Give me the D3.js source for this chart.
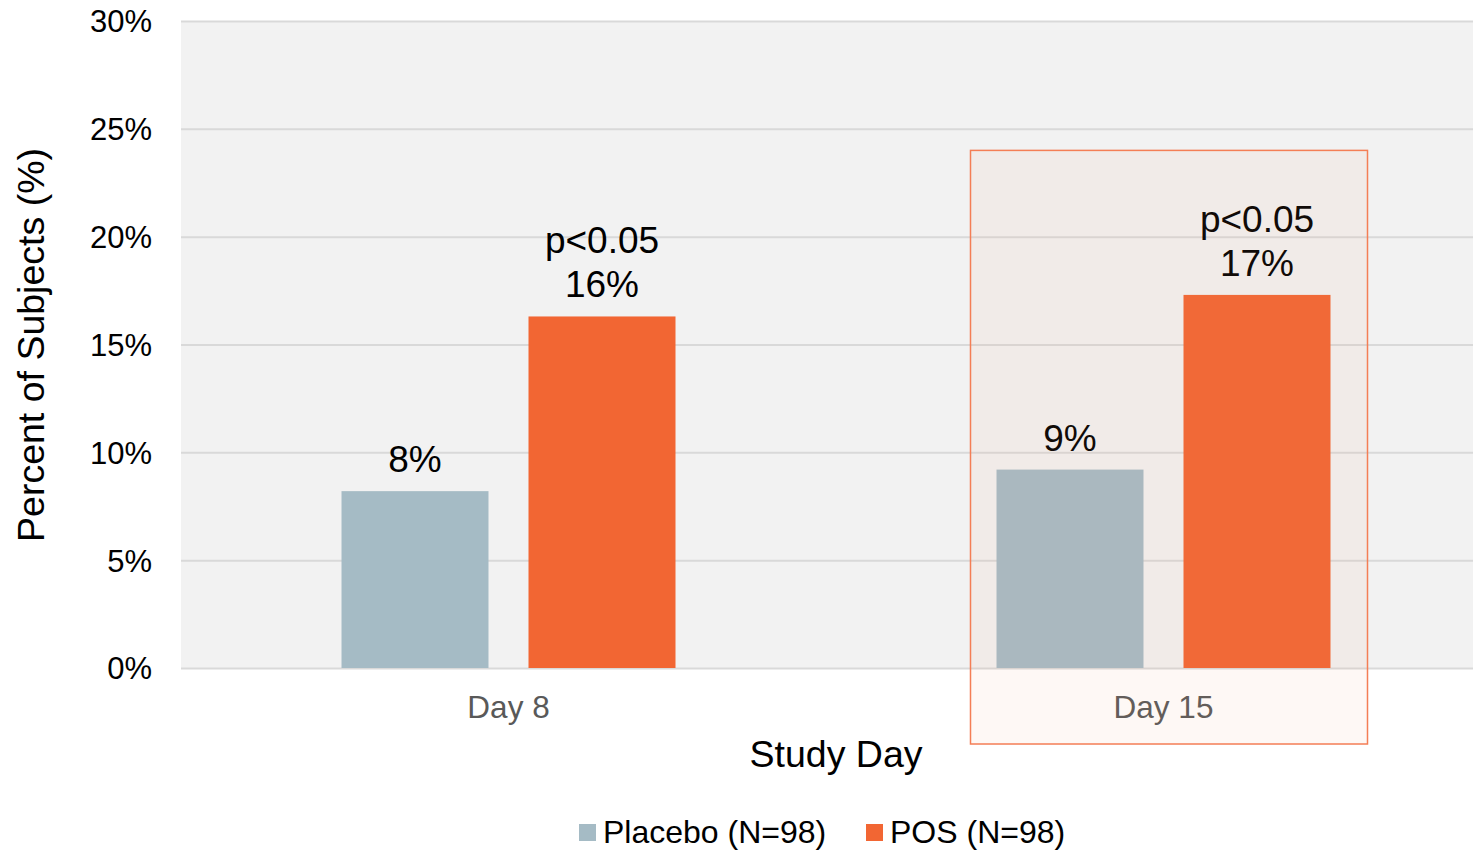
<!DOCTYPE html>
<html>
<head>
<meta charset="utf-8">
<script src="https://cdn.jsdelivr.net/npm/d3@7/dist/d3.min.js"></script>
<style>
  html, body { margin: 0; padding: 0; background: #ffffff; }
  svg { display: block; font-family: "Liberation Sans", Arial, sans-serif; }
</style>
</head>
<body>
<svg id="chart" width="1473" height="852"></svg>
<script>
// Study days on the x axis
const days = ["Day 8", "Day 15"];
// Treatment groups
const groups = ["Placebo (N=98)", "POS (N=98)"];
// Percent of subjects per group, one value per study day
const placebo = [8.2, 9.2];
const pos = [16.3, 17.3];
// Significance notes shown above the POS bars
const pNotes = ["p<0.05", "p<0.05"];
// Y axis ticks (percent)
const yTicks = [0, 5, 10, 15, 20, 25, 30];
// Highlighted day
const highlightDay = "Day 15";

const colors = { "Placebo (N=98)": "#A5BBC5", "POS (N=98)": "#F26633" };

const rows = days.map((d, i) => ({
  day: d,
  note: pNotes[i],
  values: [
    { group: groups[0], value: placebo[i] },
    { group: groups[1], value: pos[i] }
  ]
}));

const svg = d3.select("#chart");
const margin = { left: 181, top: 21, bottom: 668 };
const plotRight = 1491;

const x = d3.scaleBand().domain(days).range([margin.left, plotRight]).paddingInner(0).paddingOuter(0);
const y = d3.scaleLinear().domain([0, 30]).range([margin.bottom, margin.top]);
// Bars of one day: 147px wide with a 40px gap, centred in the band
const barW = 147, barGap = 40;
const xInner = d3.scaleOrdinal().domain(groups).range([
  x.bandwidth() / 2 - barGap / 2 - barW,
  x.bandwidth() / 2 + barGap / 2
]);

// Plot background
svg.append("rect")
  .attr("x", margin.left).attr("y", margin.top)
  .attr("width", plotRight - margin.left).attr("height", margin.bottom - margin.top)
  .attr("fill", "#F2F2F2");

// Horizontal gridlines
const yAxis = d3.axisLeft(y).tickValues(yTicks).tickSize(-(plotRight - margin.left)).tickFormat(d => d + "%");
const gy = svg.append("g").attr("transform", `translate(${margin.left},0)`).call(yAxis);
gy.select(".domain").remove();
gy.selectAll(".tick line").attr("stroke", "#D9D9D9").attr("stroke-width", 2);
gy.selectAll(".tick text")
  .attr("x", -29).attr("dy", "0.35em")
  .attr("fill", "#000").attr("font-size", 31)
  .attr("font-family", "'Liberation Sans', Arial, sans-serif");

// Bars
const dayG = svg.selectAll("g.day").data(rows).join("g")
  .attr("class", "day")
  .attr("transform", d => `translate(${x(d.day)},0)`);

dayG.selectAll("rect").data(d => d.values).join("rect")
  .attr("x", d => xInner(d.group))
  .attr("width", barW)
  .attr("y", d => y(d.value))
  .attr("height", d => y(0) - y(d.value))
  .attr("fill", d => colors[d.group]);

// Value labels
const fmt = d => d3.format(".0f")(d) + "%";
dayG.selectAll("text.val").data(d => d.values).join("text")
  .attr("class", "val")
  .attr("x", d => xInner(d.group) + barW / 2)
  .attr("y", d => y(d.value) - 19)
  .attr("text-anchor", "middle")
  .attr("font-size", 37)
  .attr("fill", "#000")
  .text(d => fmt(d.value));

// Significance notes over POS bars
dayG.append("text")
  .attr("x", xInner(groups[1]) + barW / 2)
  .attr("y", d => y(d.values[1].value) - 19 - 44)
  .attr("text-anchor", "middle")
  .attr("font-size", 37)
  .attr("fill", "#000")
  .text(d => d.note);

// X axis category labels
const xAxis = d3.axisBottom(x).tickSize(0).tickPadding(0);
const gx = svg.append("g").attr("transform", `translate(0,${margin.bottom})`).call(xAxis);
gx.select(".domain").remove();
gx.selectAll(".tick text")
  .attr("y", 50).attr("dy", null)
  .attr("fill", "#595959").attr("font-size", 31.5)
  .attr("font-family", "'Liberation Sans', Arial, sans-serif");

// Axis titles
svg.append("text")
  .attr("x", 836).attr("y", 767)
  .attr("text-anchor", "middle")
  .attr("font-size", 37.5).attr("fill", "#000")
  .text("Study Day");

svg.append("text")
  .attr("transform", "translate(44,345) rotate(-90)")
  .attr("text-anchor", "middle")
  .attr("font-size", 37.5).attr("fill", "#000")
  .text("Percent of Subjects (%)");

// Highlight frame around the later study day
const hx = x(highlightDay);
svg.append("rect")
  .attr("x", hx + 134.5)
  .attr("y", y(24))
  .attr("width", 397)
  .attr("height", 744 - y(24))
  .attr("fill", "rgba(240,150,110,0.07)")
  .attr("stroke", "#F47E55")
  .attr("stroke-width", 1.5);

// Legend
const legend = svg.append("g");
const legendX = [579, 866];
groups.forEach((g, i) => {
  const lg = legend.append("g").attr("transform", `translate(${legendX[i]},824)`);
  lg.append("rect").attr("width", 17).attr("height", 17).attr("fill", colors[g]);
  lg.append("text").attr("x", 24).attr("y", 19)
    .attr("font-size", 32).attr("fill", "#000").text(g);
});
</script>
</body>
</html>
